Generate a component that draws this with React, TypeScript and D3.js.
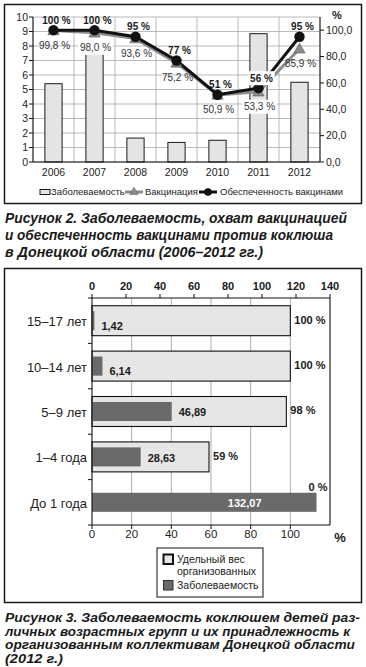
import React from "react";
import * as d3 from "d3";

// ---------- Figure 2 data ----------
const years = ["2006", "2007", "2008", "2009", "2010", "2011", "2012"];
const incidence = [5.4, 7.9, 1.65, 1.35, 1.5, 8.85, 5.5];
const vaccination = [99.8, 98.0, 93.6, 75.2, 50.9, 53.3, 85.9];
const vaccineSupply = [100, 100, 95, 77, 51, 56, 95];
const leftTicks = [0, 1, 2, 3, 4, 5, 6, 7, 8, 9, 10];
const rightTicks = [0, 20, 40, 60, 80, 100];

// ---------- Figure 3 data ----------
const ageGroups = ["15–17 лет", "10–14 лет", "5–9 лет", "1–4 года", "До 1 года"];
const organizedShare = [100, 100, 98, 59, 0];
const ageIncidence = [1.42, 6.14, 46.89, 28.63, 132.07];
const incidenceTicks = [0, 20, 40, 60, 80, 100, 120, 140];
const shareTicks = [0, 20, 40, 60, 80, 100];

const caption2 = [
  "Рисунок 2. Заболеваемость, охват вакцинацией",
  "и обеспеченность вакцинами против коклюша",
  "в Донецкой области (2006–2012 гг.)",
];
const caption3 = [
  "Рисунок 3. Заболеваемость коклюшем детей раз-",
  "личных возрастных групп и их принадлежность к",
  "организованным коллективам Донецкой области",
  "(2012 г.)",
];

const FONT = "'Liberation Sans', Arial, Helvetica, sans-serif";
const comma = (f: string) => (v: number) => d3.format(f)(v).replace(".", ",");
const f1 = comma(".1f");
const f2 = comma(".2f");

function TopChart() {
  const x = d3.scaleBand<string>().domain(years).range([33, 320]);
  const yL = d3.scaleLinear().domain([0, 10]).range([162, 17]);
  const yR = d3.scaleLinear().domain([0, 110]).range([162, 17]);
  const bw = x.bandwidth();
  const barW = bw * 0.42;
  const cx = (i: number) => (x(years[i]) as number) + bw / 2;
  const line = d3
    .line<number>()
    .x((_, i) => cx(i))
    .y((d) => yR(d));
  const tri = d3.symbol(d3.symbolTriangle, 55)();
  const boundaries = years.map((y) => x(y) as number).concat([x.range()[1]]);

  return (
    <g fontFamily={FONT}>
      {/* grid */}
      {leftTicks.map((t) => (
        <line key={"h" + t} x1={33} x2={320} y1={yL(t)} y2={yL(t)} stroke="#a8a8a8" strokeWidth={0.8} />
      ))}
      {boundaries.map((b, i) => (
        <line key={"v" + i} x1={b} x2={b} y1={yL(10)} y2={yL(0)} stroke="#a8a8a8" strokeWidth={0.8} />
      ))}
      {/* bars */}
      {incidence.map((v, i) => (
        <rect
          key={"b" + i}
          x={cx(i) - barW / 2}
          y={yL(v)}
          width={barW}
          height={yL(0) - yL(v)}
          fill="#e4e4e4"
          stroke="#1a1a1a"
          strokeWidth={1}
        />
      ))}
      {/* axes */}
      <line x1={33} x2={33} y1={yL(10)} y2={yL(0)} stroke="#111" strokeWidth={1} />
      <line x1={320} x2={320} y1={yL(10)} y2={yL(0)} stroke="#111" strokeWidth={1} />
      <line x1={33} x2={320} y1={yL(0)} y2={yL(0)} stroke="#111" strokeWidth={1} />
      {leftTicks.map((t) => (
        <g key={"lt" + t}>
          <line x1={29} x2={33} y1={yL(t)} y2={yL(t)} stroke="#111" />
          <text x={28} y={yL(t)} dy="0.35em" textAnchor="end" fontSize={10.5} fill="#222">
            {t}
          </text>
        </g>
      ))}
      {rightTicks.map((t) => (
        <g key={"rt" + t}>
          <line x1={320} x2={324} y1={yR(t)} y2={yR(t)} stroke="#111" />
          <text x={326} y={yR(t)} dy="0.35em" textAnchor="start" fontSize={10.5} fill="#222">
            {f1(t)}
          </text>
        </g>
      ))}
      <text x={337} y={15} dy="0.35em" textAnchor="middle" fontSize={11} fontWeight="bold" fill="#222">
        %
      </text>
      {years.map((y, i) => (
        <text key={"yr" + y} x={cx(i)} y={172} dy="0.35em" textAnchor="middle" fontSize={10.5} fill="#222">
          {y}
        </text>
      ))}
      {/* lines */}
      <path d={line(vaccination) as string} fill="none" stroke="#8c8c8c" strokeWidth={3} />
      <path d={line(vaccineSupply) as string} fill="none" stroke="#111" strokeWidth={3} />
      {vaccination.map((v, i) => (
        <path key={"tr" + i} d={tri as string} transform={`translate(${cx(i)},${yR(v) + 1})`} fill="#8c8c8c" stroke="#555" strokeWidth={0.6} />
      ))}
      {vaccineSupply.map((v, i) => (
        <circle key={"c" + i} cx={cx(i)} cy={yR(v)} r={5.2} fill="#111" />
      ))}
      {/* labels */}
      {vaccineSupply.map((v, i) => {
        const ly = yR(v) - 10;
        const lx = cx(i) + 3;
        const txt = `${v} %`;
        const over = ly + 4 > yL(incidence[i]) && Math.abs(lx - cx(i)) < barW;
        const w = txt.length * 5.6;
        return (
          <g key={"ls" + i}>
            {over && <rect x={lx - w / 2 - 2} y={ly - 7} width={w + 4} height={14} fill="#fff" />}
            <text x={lx} y={ly} dy="0.35em" textAnchor="middle" fontSize={10} fontWeight="bold" fill="#1a1a1a">
              {txt}
            </text>
          </g>
        );
      })}
      {vaccination.map((v, i) => {
        const ly = yR(v) + 15;
        const lx = cx(i) + 1;
        const txt = `${f1(v)} %`;
        const over = ly + 2 > yL(incidence[i]);
        const w = txt.length * 5.2;
        return (
          <g key={"lv" + i}>
            {over && <rect x={lx - w / 2 - 2} y={ly - 7} width={w + 4} height={14} fill="#fff" />}
            <text x={lx} y={ly} dy="0.35em" textAnchor="middle" fontSize={10} fill="#333">
              {txt}
            </text>
          </g>
        );
      })}
      {/* legend */}
      <g fontSize={9.5} fill="#222">
        <rect x={40} y={189.5} width={10} height={5} fill="#e4e4e4" stroke="#1a1a1a" strokeWidth={1} />
        <text x={51} y={192} dy="0.35em">Заболеваемость</text>
        <line x1={125} x2={143} y1={192} y2={192} stroke="#8c8c8c" strokeWidth={3} />
        <path d={d3.symbol(d3.symbolTriangle, 30)() as string} transform="translate(134,192)" fill="#8c8c8c" stroke="#555" strokeWidth={0.5} />
        <text x={145} y={192} dy="0.35em">Вакцинация</text>
        <line x1={199} x2={217} y1={192} y2={192} stroke="#111" strokeWidth={3} />
        <circle cx={208} cy={192} r={3.8} fill="#111" />
        <text x={220} y={192} dy="0.35em">Обеспеченность вакцинами</text>
      </g>
    </g>
  );
}

function BottomChart() {
  const y = d3.scaleBand<string>().domain(ageGroups).range([298, 525]);
  const xInc = d3.scaleLinear().domain([0, 140]).range([92, 330]);
  const xShare = d3.scaleLinear().domain([0, 120]).range([92, 330]);
  const bh = y.bandwidth();
  const lightH = bh * 0.66;
  const darkH = bh * 0.42;
  const cy = (i: number) => (y(ageGroups[i]) as number) + bh / 2;
  const bounds = ageGroups.map((g) => y(g) as number).concat([y.range()[1]]);
  const top = 298;
  const bottom = 525;

  return (
    <g fontFamily={FONT}>
      {shareTicks
        .filter((t) => t > 0)
        .map((t) => (
          <line key={"g" + t} x1={xShare(t)} x2={xShare(t)} y1={top} y2={bottom} stroke="#9a9a9a" strokeWidth={0.8} />
        ))}
      {/* light bars */}
      {organizedShare.map((v, i) =>
        v > 0 ? (
          <rect
            key={"l" + i}
            x={xShare(0)}
            y={cy(i) - lightH / 2}
            width={xShare(v) - xShare(0)}
            height={lightH}
            fill="#e6e6e6"
            stroke="#111"
            strokeWidth={1.1}
          />
        ) : null
      )}
      {/* dark bars */}
      {ageIncidence.map((v, i) => (
        <rect
          key={"d" + i}
          x={xInc(0)}
          y={cy(i) - darkH / 2}
          width={Math.max(1, xInc(v) - xInc(0))}
          height={darkH}
          fill="#6a6a6a"
        />
      ))}
      {/* frame/axes */}
      <line x1={92} x2={330} y1={top} y2={top} stroke="#111" strokeWidth={1.1} />
      <line x1={92} x2={330} y1={bottom} y2={bottom} stroke="#111" strokeWidth={1.1} />
      <line x1={92} x2={92} y1={top} y2={bottom} stroke="#111" strokeWidth={1.1} />
      <line x1={330} x2={330} y1={top} y2={bottom} stroke="#111" strokeWidth={1.1} />
      {bounds.map((b, i) => (
        <line key={"bt" + i} x1={88} x2={92} y1={b} y2={b} stroke="#111" />
      ))}
      {incidenceTicks.map((t) => (
        <g key={"it" + t}>
          <line x1={xInc(t)} x2={xInc(t)} y1={top - 4} y2={top} stroke="#111" />
          <text x={xInc(t)} y={286} dy="0.35em" textAnchor="middle" fontSize={11} fontWeight="bold" fill="#1a1a1a">
            {t}
          </text>
        </g>
      ))}
      {shareTicks.map((t) => (
        <g key={"st" + t}>
          <line x1={xShare(t)} x2={xShare(t)} y1={bottom} y2={bottom + 4} stroke="#111" />
          <text x={xShare(t)} y={534} dy="0.35em" textAnchor="middle" fontSize={11.5} fill="#222">
            {t}
          </text>
        </g>
      ))}
      <text x={340} y={537} dy="0.35em" textAnchor="middle" fontSize={13} fontWeight="bold" fill="#1a1a1a">
        %
      </text>
      {/* category labels */}
      {ageGroups.map((g, i) => (
        <text key={"cl" + i} x={87} y={cy(i) + 1} dy="0.35em" textAnchor="end" fontSize={13} fill="#222">
          {g}
        </text>
      ))}
      {/* incidence labels */}
      {ageIncidence.map((v, i) => {
        const inside = v > 100;
        return (
          <text
            key={"il" + i}
            x={inside ? xInc(v) - 55 : xInc(v) + 7}
            y={cy(i) + (v < 10 ? 5 : 1)}
            dy="0.35em"
            textAnchor={inside ? "end" : "start"}
            fontSize={11}
            fontWeight="bold"
            fill={inside ? "#fff" : "#1a1a1a"}
          >
            {f2(v)}
          </text>
        );
      })}
      {/* share labels */}
      {organizedShare.map((v, i) =>
        v > 0 ? (
          <text key={"sl" + i} x={xShare(v) + 4} y={cy(i) - 1} dy="0.35em" textAnchor="start" fontSize={11} fontWeight="bold" fill="#1a1a1a">
            {`${v} %`}
          </text>
        ) : (
          <text key={"sl" + i} x={xInc(ageIncidence[i]) + 11} y={cy(i) - 15} dy="0.35em" textAnchor="end" fontSize={11} fontWeight="bold" fill="#1a1a1a">
            {`${v} %`}
          </text>
        )
      )}
      {/* legend */}
      <g fontSize={10.5} fill="#222">
        <rect x={157} y={548} width={106} height={49} fill="#fff" stroke="#111" strokeWidth={1} />
        <rect x={163.5} y={554.5} width={9.5} height={9.5} fill="#e6e6e6" stroke="#111" strokeWidth={2} />
        <text x={177} y={559} dy="0.35em">Удельный вес</text>
        <text x={177} y={571} dy="0.35em">организованных</text>
        <rect x={163.5} y={580.5} width={9.5} height={9.5} fill="#6a6a6a" stroke="#333" strokeWidth={1} />
        <text x={177} y={585} dy="0.35em">Заболеваемость</text>
      </g>
    </g>
  );
}

export default function App() {
  const cap1Widths = [342, 328, 258];
  const cap2Widths = [355, 345, 350, 58];
  return (
    <svg
      width={366}
      height={667}
      viewBox="0 0 366 667"
      style={{ position: "absolute", left: 0, top: 0, background: "#fff" }}
    >
      <rect x={0} y={0} width={366} height={667} fill="#fff" />
      <rect x={4.5} y={4.5} width={357} height={199} fill="#fff" stroke="#1a1a1a" strokeWidth={1.5} />
      <TopChart />
      {caption2.map((t, i) => (
        <text
          key={"c2" + i}
          x={5}
          y={223 + i * 17}
          fontFamily={FONT}
          fontSize={14}
          fontWeight="bold"
          fontStyle="italic"
          fill="#1a1a1a"
          textLength={cap1Widths[i]}
          lengthAdjust="spacingAndGlyphs"
        >
          {t}
        </text>
      ))}
      <rect x={4.5} y={268.5} width={357} height={334} fill="#fff" stroke="#1a1a1a" strokeWidth={1.5} />
      <BottomChart />
      {caption3.map((t, i) => (
        <text
          key={"c3" + i}
          x={5}
          y={622 + i * 13.5}
          fontFamily={FONT}
          fontSize={13}
          fontWeight="bold"
          fontStyle="italic"
          fill="#1a1a1a"
          textLength={cap2Widths[i]}
          lengthAdjust="spacingAndGlyphs"
        >
          {t}
        </text>
      ))}
    </svg>
  );
}
